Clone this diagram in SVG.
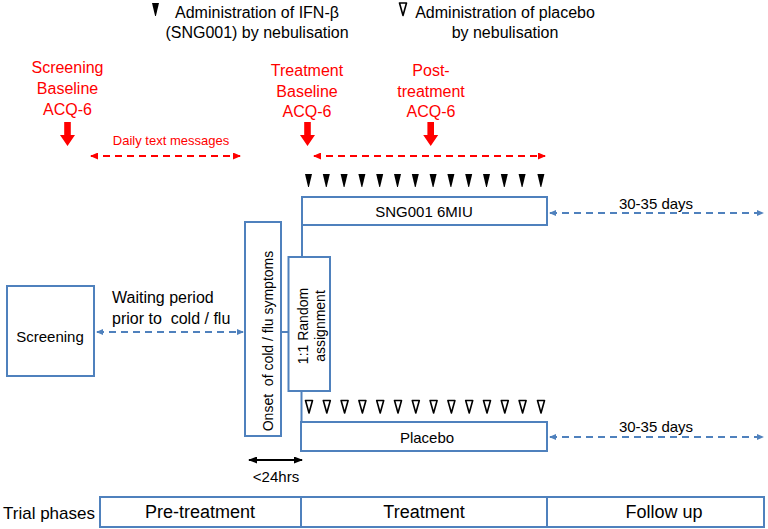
<svg xmlns="http://www.w3.org/2000/svg" xmlns:xlink="http://www.w3.org/1999/xlink" width="768" height="529" viewBox="0 0 768 529">
<style>
text{font-family:"Liberation Sans",Arial,sans-serif;fill:#000}
.t16{font-size:16px}
.t15{font-size:15px}
.t14{font-size:14px}
.t18{font-size:18px}
.red{fill:#ff0000}
.mid{text-anchor:middle}
.box{fill:#fff;stroke:#4f81bd;stroke-width:2}
.conn{fill:none;stroke:#4f81bd;stroke-width:2}
.bdash{fill:none;stroke:#4f81bd;stroke-width:2;stroke-dasharray:7 5;marker-start:url(#mb);marker-end:url(#mb)}
.rdash{fill:none;stroke:#ff0000;stroke-width:2;stroke-dasharray:7 5;marker-start:url(#mr);marker-end:url(#mr)}
.blk{fill:none;stroke:#000;stroke-width:2;marker-start:url(#mk);marker-end:url(#mk)}
</style>
<defs>
<marker id="mb" viewBox="0 0 7 6" refX="6" refY="3" markerWidth="7" markerHeight="6" markerUnits="userSpaceOnUse" orient="auto-start-reverse"><path d="M0,0 L7,3 L0,6 z" fill="#4f81bd"/></marker>
<marker id="mr" viewBox="0 0 8 7" refX="7" refY="3.5" markerWidth="8" markerHeight="7" markerUnits="userSpaceOnUse" orient="auto-start-reverse"><path d="M0,0 L8,3.5 L0,7 z" fill="#ff0000"/></marker>
<marker id="mk" viewBox="0 0 9 7" refX="8" refY="3.5" markerWidth="9" markerHeight="7" markerUnits="userSpaceOnUse" orient="auto-start-reverse"><path d="M0,0 L9,3.5 L0,7 z" fill="#000"/></marker>
<path id="tb" d="M-3.5,0 L3.5,0 L0.4,13 L-0.4,13 Z" fill="#000"/>
<path id="tw" d="M-3.5,0 L3.5,0 L0,12.5 Z" fill="#fff" stroke="#000" stroke-width="1.6" stroke-linejoin="round"/>
<path id="ra" d="M-3.3,0 H3.3 V13 H7.5 L0,24 L-7.5,13 H-3.3 Z" fill="#ff0000"/>
</defs>

<g id="legend">
<use xlink:href="#tb" x="155.5" y="3"/>
<text class="t16 mid" x="257" y="18">Administration of IFN-β</text>
<text class="t16 mid" x="257" y="38">(SNG001) by nebulisation</text>
<use xlink:href="#tw" x="403" y="3"/>
<text class="t16 mid" x="505" y="18">Administration of placebo</text>
<text class="t16 mid" x="505" y="38">by nebulisation</text>
</g>

<g id="screening-baseline">
<text class="t16 red mid" x="67.5" y="73">Screening</text>
<text class="t16 red mid" x="67.5" y="94">Baseline</text>
<text class="t16 red mid" x="67.5" y="115">ACQ-6</text>
<use xlink:href="#ra" x="67.5" y="122"/>
</g>
<g id="treatment-baseline">
<text class="t16 red mid" x="307" y="76">Treatment</text>
<text class="t16 red mid" x="307" y="97">Baseline</text>
<text class="t16 red mid" x="307" y="117">ACQ-6</text>
<use xlink:href="#ra" x="307.5" y="122"/>
</g>
<g id="post-treatment">
<text class="t16 red mid" x="431" y="76">Post-</text>
<text class="t16 red mid" x="431" y="97">treatment</text>
<text class="t16 red mid" x="431" y="117">ACQ-6</text>
<use xlink:href="#ra" x="430.7" y="122"/>
</g>
<g id="daily-text">
<text class="red mid" style="font-size:13px" x="171" y="145">Daily text messages</text>
</g>

<g id="sng-doses">
<use xlink:href="#tb" x="308.5" y="174"/>
<use xlink:href="#tb" x="326.3" y="174"/>
<use xlink:href="#tb" x="344.1" y="174"/>
<use xlink:href="#tb" x="361.9" y="174"/>
<use xlink:href="#tb" x="379.7" y="174"/>
<use xlink:href="#tb" x="397.5" y="174"/>
<use xlink:href="#tb" x="415.3" y="174"/>
<use xlink:href="#tb" x="433.1" y="174"/>
<use xlink:href="#tb" x="450.9" y="174"/>
<use xlink:href="#tb" x="468.7" y="174"/>
<use xlink:href="#tb" x="486.5" y="174"/>
<use xlink:href="#tb" x="504.3" y="174"/>
<use xlink:href="#tb" x="522.1" y="174"/>
<use xlink:href="#tb" x="540.9" y="174"/>
</g>
<g id="placebo-doses">
<use xlink:href="#tw" x="309" y="400.5"/>
<use xlink:href="#tw" x="326.8" y="400.5"/>
<use xlink:href="#tw" x="344.6" y="400.5"/>
<use xlink:href="#tw" x="362.4" y="400.5"/>
<use xlink:href="#tw" x="380.2" y="400.5"/>
<use xlink:href="#tw" x="398" y="400.5"/>
<use xlink:href="#tw" x="415.8" y="400.5"/>
<use xlink:href="#tw" x="433.6" y="400.5"/>
<use xlink:href="#tw" x="451.4" y="400.5"/>
<use xlink:href="#tw" x="469.2" y="400.5"/>
<use xlink:href="#tw" x="487" y="400.5"/>
<use xlink:href="#tw" x="504.8" y="400.5"/>
<use xlink:href="#tw" x="522.6" y="400.5"/>
<use xlink:href="#tw" x="541" y="400.5"/>
</g>

<g id="connectors">
<line class="rdash" x1="91" y1="156" x2="240" y2="156"/>
<line class="rdash" x1="314" y1="156" x2="545" y2="156"/>
<line class="bdash" x1="97" y1="332" x2="243" y2="332"/>
<line class="bdash" x1="550" y1="213" x2="763" y2="213"/>
<line class="bdash" x1="550" y1="437" x2="763" y2="437"/>
<line class="conn" x1="281" y1="332" x2="289" y2="332"/>
<line class="conn" x1="302" y1="225" x2="302" y2="257"/>
<line class="conn" x1="301.5" y1="391" x2="301.5" y2="422"/>
<line class="blk" x1="249" y1="460" x2="302" y2="460"/>
</g>

<g id="screening">
<rect class="box" x="7" y="286" width="87" height="90"/>
<text class="t15 mid" x="50" y="342">Screening</text>
</g>
<g id="waiting-label">
<text class="t16" x="112" y="303">Waiting period</text>
<text class="t16" x="112" y="324" xml:space="preserve">prior to  cold / flu</text>
</g>
<g id="onset">
<rect class="box" x="245" y="222" width="36" height="214"/>
<text class="t14 mid" x="273" y="341" transform="rotate(-90 273 341)" xml:space="preserve">Onset  of cold / flu symptoms</text>
</g>
<g id="random">
<rect class="box" x="288.5" y="257" width="41.5" height="134"/>
<text class="t14 mid" x="308" y="326" transform="rotate(-90 308 326)">1:1 Random</text>
<text class="t14 mid" x="325" y="326" transform="rotate(-90 325 326)">assignment</text>
</g>
<g id="sng001">
<rect class="box" x="302" y="197" width="245" height="28"/>
<text class="t15 mid" x="424" y="217">SNG001 6MIU</text>
</g>
<g id="placebo">
<rect class="box" x="301" y="422" width="246" height="29"/>
<text class="t15 mid" x="427" y="443">Placebo</text>
</g>
<g id="followup-labels">
<text class="t15 mid" x="656" y="209">30-35 days</text>
<text class="t15 mid" x="656" y="432">30-35 days</text>
</g>
<g id="window">
<text class="t15 mid" x="276" y="482">&lt;24hrs</text>
</g>
<g id="phases">
<text style="font-size:17px" x="3" y="519">Trial phases</text>
<rect class="box" x="100" y="497" width="664" height="30"/>
<line class="conn" x1="301" y1="497" x2="301" y2="527"/>
<line class="conn" x1="547" y1="497" x2="547" y2="527"/>
<text class="t18 mid" x="200" y="518">Pre-treatment</text>
<text class="t18 mid" x="424" y="518">Treatment</text>
<text class="t18 mid" x="664" y="518">Follow up</text>
</g>
</svg>
